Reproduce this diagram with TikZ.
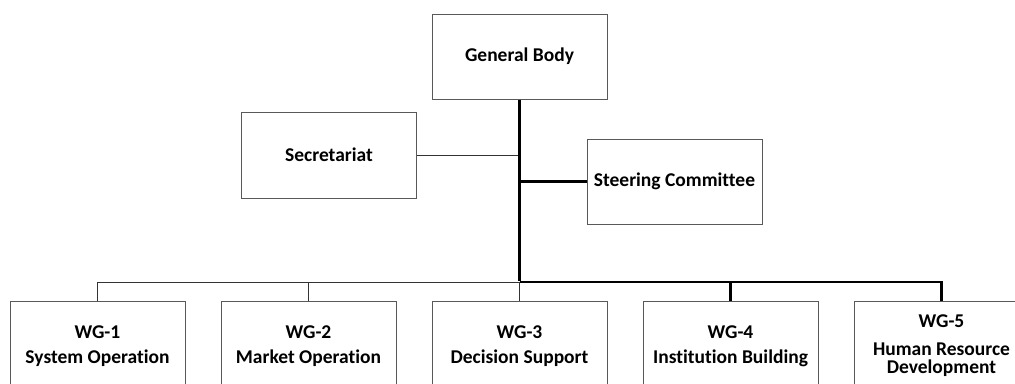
\documentclass[tikz,border=0pt]{standalone}
\usepackage{fontspec}
\setmainfont[Ligatures=NoCommon]{Carlito}
\begin{document}
\begin{tikzpicture}[x=1pt,y=-1pt,
  box/.style={draw=black!65,line width=1pt,fill=white,minimum width=175pt,minimum height=85pt,inner sep=0pt},
  wgbox/.style={box,anchor=north,minimum height=95pt},
  lbl/.style={font=\fontsize{19.5}{19.5}\selectfont\bfseries,inner sep=0pt,anchor=base},
  thinline/.style={draw=black!80,line width=1pt},
  thickline/.style={draw=black,line width=2.4pt}]
\useasboundingbox (0,0) rectangle (1015,383);
\clip (0,0) rectangle (1015,383);

% upper boxes
\node[box] (gb) at (519.5,56.5) {};
\node[lbl,anchor=center] (gbt) at (gb.center) {General Body};
\node[box,minimum height=86pt] (sec) at (329,155) {};
\node[lbl,anchor=center] (sect) at (sec.center) {Secretariat};
\node[box] (sc) at (674.5,181.5) {};
\node[lbl,anchor=center] (sct) at (sc.center) {Steering Committee};

% working groups (cut off at the lower edge)
\node[wgbox] (wg1) at (97.5,301) {};
\node[wgbox] (wg2) at (308.5,301) {};
\node[wgbox] (wg3) at (519.5,301) {};
\node[wgbox] (wg4) at (730.5,301) {};
\node[wgbox] (wg5) at (941.5,301) {};

\node[lbl] (wg1a) at (97.5,338) {WG-1};
\node[lbl] (wg1b) at (97.5,363) {System Operation};
\node[lbl] (wg2a) at (308.5,338) {WG-2};
\node[lbl] (wg2b) at (308.5,363) {Market Operation};
\node[lbl] (wg3a) at (519.5,338) {WG-3};
\node[lbl] (wg3b) at (519.5,363) {Decision Support};
\node[lbl] (wg4a) at (730.5,338) {WG-4};
\node[lbl] (wg4b) at (730.5,363) {Institution Building};
\node[lbl] (wg5a) at (941.5,327) {WG-5};
\node[lbl] (wg5b) at (941.5,355) {Human Resource};
\node[lbl] (wg5c) at (941.5,373) {Development};

% connectors
\coordinate (hub) at (519.5,282);
\coordinate (secj) at (519.5,155);
\coordinate (scj) at (519.5,181.5);
\draw[thinline] (sec.east) -- (secj);
\draw[thickline] (scj) -- (sc.west);
\draw[thinline] (wg1.north) |- (hub);
\draw[thinline] (wg2.north) -- (wg2.north |- hub);
\draw[thinline] (hub) -- (wg3.north);
\draw[thickline] (hub) -| (wg5.north);
\draw[thickline] (wg4.north |- hub) -- (wg4.north);
\draw[thickline] (gb.south) -- ([yshift=1.2pt]hub);
\end{tikzpicture}
\end{document}
